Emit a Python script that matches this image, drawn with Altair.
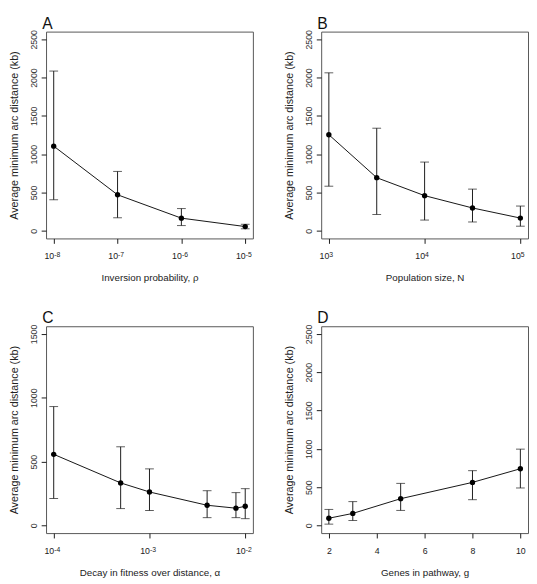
import altair as alt
import pandas as pd
import numpy as np

# Panel A: inversion probability
a_x = [1e-8, 1e-7, 1e-6, 1e-5]
a_mean = [1105, 470, 165, 55]
a_lo = [405, 170, 68, 26]
a_hi = [2085, 775, 290, 85]
a_ticks = [1e-8, 1e-7, 1e-6, 1e-5]
a_exp = ["-8", "-7", "-6", "-5"]

# Panel B: population size
b_x = [1000, 3162, 10000, 31623, 100000]
b_mean = [1254, 693, 459, 298, 166]
b_lo = [582, 213, 140, 115, 60]
b_hi = [2062, 1339, 897, 544, 323]
b_ticks = [1e3, 1e4, 1e5]
b_exp = ["3", "4", "5"]

# Panel C: decay in fitness over distance
c_x = [1e-4, 5e-4, 1e-3, 4e-3, 8e-3, 1e-2]
c_mean = [557, 333, 262, 158, 135, 150]
c_lo = [211, 132, 117, 61, 61, 53]
c_hi = [931, 616, 443, 272, 257, 288]
c_ticks = [1e-4, 1e-3, 1e-2]
c_exp = ["-4", "-3", "-2"]

# Panel D: genes in pathway
d_x = [2, 3, 5, 8, 10]
d_mean = [94, 157, 349, 562, 740]
d_lo = [17, 64, 196, 336, 489]
d_hi = [209, 311, 549, 715, 996]
d_ticks = [2, 4, 6, 8, 10]

y_title = "Average minimum arc distance (kb)"
FONT = "Liberation Sans"
W, H = 212, 212
INK = "#1a1a1a"


def panel(xs, mean, lo, hi, letter, xtitle, xscale, xticks, exps, ymax, yticks):
    df = pd.DataFrame({"x": xs, "mean": mean, "lo": lo, "hi": hi})
    ypad = ymax * 0.04
    yscale = alt.Scale(domain=[-ypad, ymax + ypad], nice=False, zero=False)
    xaxis_kw = dict(values=xticks, title=xtitle, tickSize=5, labelPadding=9,
                    titlePadding=12, labelFontSize=9, titleFontSize=10,
                    titleFontWeight="normal",
                    domain=False, grid=False, tickColor=INK, labelColor="#222",
                    titleColor="#222", labelFlush=False)
    if exps is not None:
        xaxis_kw["labelExpr"] = "'10'"
        xaxis_kw["labelAlign"] = "right"
    else:
        xaxis_kw["format"] = "d"
    xaxis = alt.Axis(**xaxis_kw)
    yaxis = alt.Axis(values=yticks, title=y_title, format="d", tickSize=5, labelAngle=-90,
                     labelAlign="center", labelBaseline="bottom", labelPadding=3,
                     titlePadding=10, labelFontSize=9, titleFontSize=11,
                     titleFontWeight="normal",
                     domain=False, grid=False, tickColor=INK, labelColor="#333",
                     titleColor="#222", labelFlush=False)
    X = alt.X("x:Q", scale=xscale, axis=xaxis)
    base = alt.Chart(df)
    bars = base.mark_rule(color=INK, strokeWidth=1).encode(
        x=X, y=alt.Y("lo:Q", scale=yscale, axis=yaxis), y2="hi:Q")
    cap_lo = base.mark_tick(orient="horizontal", size=9, thickness=1, color=INK).encode(
        x="x:Q", y="lo:Q")
    cap_hi = base.mark_tick(orient="horizontal", size=9, thickness=1, color=INK).encode(
        x="x:Q", y="hi:Q")
    line = base.mark_line(color="#111", strokeWidth=1).encode(x="x:Q", y="mean:Q")
    pts = base.mark_circle(size=30, color="black", opacity=1).encode(x="x:Q", y="mean:Q")
    layers = [bars, cap_lo, cap_hi, line, pts]
    if exps is not None:
        edf = pd.DataFrame({"x": xticks, "e": exps})
        sup = alt.Chart(edf).mark_text(
            align="left", baseline="alphabetic", fontSize=7, font=FONT, color="#222", dx=0.5
        ).encode(x="x:Q", y=alt.value(H + 19), text="e:N")
        layers.append(sup)
    return alt.layer(*layers).properties(
        width=W, height=H,
        title=alt.TitleParams(letter, anchor="start", frame="group", dx=-4,
                              fontSize=16, fontWeight="normal", font=FONT,
                              offset=-2, color="#111"))


def logpad(a, b, frac=0.04):
    la, lb = np.log10(a), np.log10(b)
    p = (lb - la) * frac
    return [10 ** (la - p), 10 ** (lb + p)]


pa = panel(a_x, a_mean, a_lo, a_hi, "A", "Inversion probability, \u03c1",
           alt.Scale(type="log", domain=logpad(1e-8, 1e-5), nice=False),
           a_ticks, a_exp, 2500, [0, 500, 1000, 1500, 2000, 2500])
pb = panel(b_x, b_mean, b_lo, b_hi, "B", "Population size,  N",
           alt.Scale(type="log", domain=logpad(1e3, 1e5), nice=False),
           b_ticks, b_exp, 2500, [0, 500, 1000, 1500, 2000, 2500])
pc = panel(c_x, c_mean, c_lo, c_hi, "C", "Decay in fitness over distance,  \u03b1",
           alt.Scale(type="log", domain=logpad(1e-4, 1e-2), nice=False),
           c_ticks, c_exp, 1500, [0, 500, 1000, 1500])
pd_ = panel(d_x, d_mean, d_lo, d_hi, "D", "Genes in pathway,  g",
            alt.Scale(type="linear", domain=[2 - 0.32, 10 + 0.32], nice=False, zero=False),
            d_ticks, None, 2500, [0, 500, 1000, 1500, 2000, 2500])

chart = alt.concat(pa, pb, pc, pd_, columns=2, spacing={"row": 27, "column": 30}).properties(
    padding=0, background="white"
).configure_view(stroke="#555", strokeWidth=1).configure_axis(
    labelFont=FONT, titleFont=FONT
).configure_title(font=FONT)

chart.save("out.html", embed_options={"renderer": "svg", "actions": False})
